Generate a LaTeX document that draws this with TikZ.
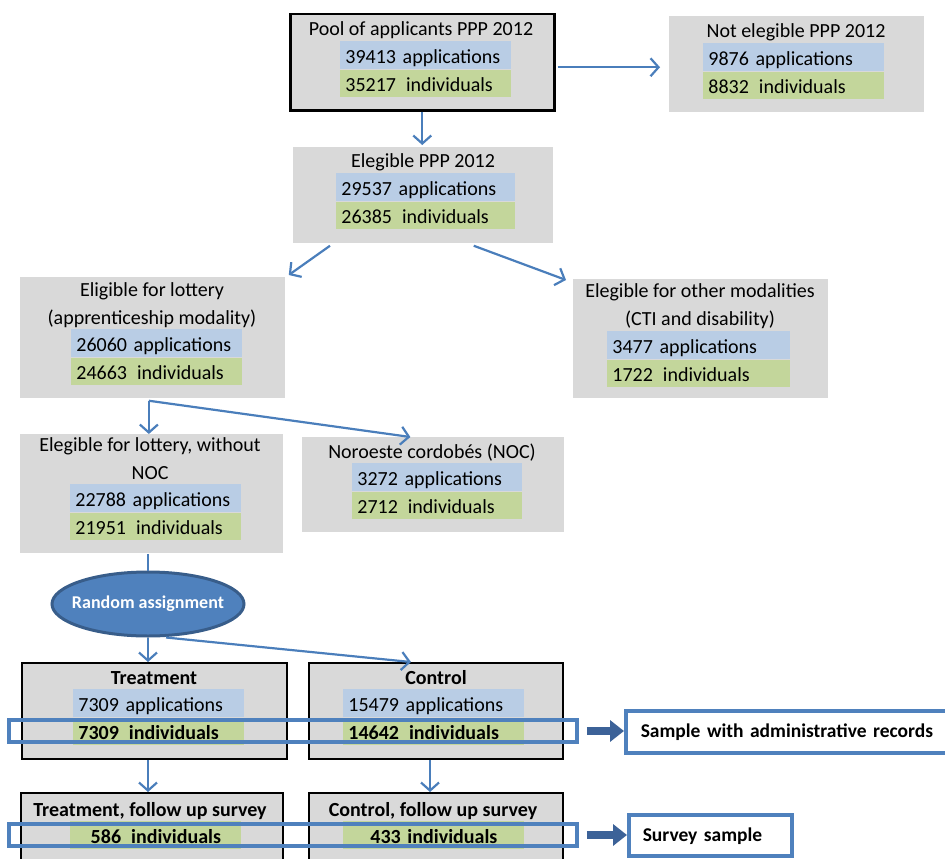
\documentclass[tikz,border=0pt]{standalone}
\usepackage{fontspec}
\setmainfont{Carlito}
\usepackage{tikz}
\usetikzlibrary{positioning, arrows.meta, shapes.geometric}
\definecolor{boxgray}{RGB}{217,217,217}
\definecolor{bandblue}{RGB}{185,205,229}
\definecolor{bandgreen}{RGB}{195,214,155}
\definecolor{linkblue}{RGB}{74,126,187}
\definecolor{hiblue}{RGB}{79,129,189}
\definecolor{ovaledge}{RGB}{56,93,138}
\definecolor{arrowdark}{RGB}{60,98,152}
\tikzset{every picture/.style={line width=0.75pt}}
\tikzset{
  grbox/.style={fill=boxgray, inner sep=0pt, anchor=north west},
  frbox/.style={grbox, draw=black, line width=2pt},
  ttl/.style={inner sep=0pt, anchor=base, align=center, font=\fontsize{20}{27.5}\selectfont},
  appl/.style={fill=bandblue, anchor=north west, inner xsep=5pt, inner ysep=0pt, text width=#1,
    align=left, minimum height=27.5pt, text height=20pt, text depth=3pt, font=\fontsize{20}{24}\selectfont},
  indiv/.style={appl=#1, fill=bandgreen},
  conn/.style={draw=linkblue, line width=2.2pt, -{Straight Barb[length=8pt,width=18pt]}},
  link/.style={draw=linkblue, line width=2.2pt},
  oval/.style={ellipse, fill=hiblue, draw=ovaledge, line width=3pt, minimum width=192pt, minimum height=64pt,
    inner xsep=-10pt, inner ysep=0pt, text=white, font=\fontsize{18}{22}\selectfont\bfseries},
  hilite/.style={draw=hiblue, line width=3.5pt, inner sep=0pt},
  outbox/.style={draw=hiblue, fill=white, line width=3.5pt, anchor=north west, inner xsep=15pt, inner ysep=0pt,
    text width=#1, align=left, text height=18pt, text depth=6pt, font=\fontsize{19.5}{24}\selectfont\bfseries},
  bigarrow/.style={draw=arrowdark, line width=8pt, -{Triangle[length=14pt,width=21pt]}}
}
\begin{document}
\begin{tikzpicture}[x=1pt,y=1pt,yscale=-1,xscale=1]
\useasboundingbox (0,0) rectangle (945,859);

%Shape: Pool of applicants
\node[frbox, line width=2.5pt, minimum width=264pt, minimum height=96pt] (pool) at (289,13) {};
\node[ttl] (poolT) at (421,36) {Pool of applicants PPP 2012};
\node[appl=161pt] (poolA) at (340,41) {39413 applications};
\node[indiv=161pt, below=0pt of poolA] (poolI) {35217~\,individuals};

%Shape: Not elegible
\node[grbox, minimum width=255pt, minimum height=96pt] (notel) at (669,16) {};
\node[ttl] (notelT) at (796,38) {Not elegible PPP 2012};
\node[appl=171pt] (notelA) at (703,43) {9876 applications};
\node[indiv=171pt, below=0pt of notelA] (notelI) {8832~\,individuals};

%Shape: Elegible PPP 2012
\node[grbox, minimum width=260pt, minimum height=96pt] (elig) at (293,147) {};
\node[ttl] (eligT) at (423,167) {Elegible PPP 2012};
\node[appl=169pt] (eligA) at (336,173) {29537 applications};
\node[indiv=169pt, below=0pt of eligA] (eligI) {26385~\,individuals};

%Shape: Eligible for lottery
\node[grbox, minimum width=265pt, minimum height=121pt] (lot) at (20,277) {};
\node[ttl] (lotT) at (152,324) {Eligible for lottery\\(apprenticeship modality)};
\node[appl=161pt] (lotA) at (71,329) {26060 applications};
\node[indiv=161pt, below=0pt of lotA] (lotI) {24663~\,individuals};

%Shape: Other modalities
\node[grbox, minimum width=255pt, minimum height=119pt] (other) at (573,279) {};
\node[ttl] (otherT) at (700,325) {Elegible for other modalities\\(CTI and disability)};
\node[appl=173pt] (otherA) at (607,331) {3477 applications};
\node[indiv=173pt, below=0pt of otherA] (otherI) {1722~\,individuals};

%Shape: Lottery without NOC
\node[grbox, minimum width=263pt, minimum height=119pt] (nonoc) at (20,434) {};
\node[ttl] (nonocT) at (150,479) {Elegible for lottery, without\\NOC};
\node[appl=161pt] (nonocA) at (70,484) {22788 applications};
\node[indiv=161pt, below=0pt of nonocA] (nonocI) {21951~\,individuals};

%Shape: NOC
\node[grbox, minimum width=262pt, minimum height=95pt] (noc) at (302,437) {};
\node[ttl] (nocT) at (432,458) {Noroeste cordobés (NOC)};
\node[appl=160pt] (nocA) at (352,463) {3272 applications};
\node[indiv=160pt, below=0pt of nocA] (nocI) {2712~\,individuals};

%Shape: Ellipse
\node[oval] (rand) at (148,604) {Random assignment};

%Shape: Treatment
\node[frbox, minimum width=265pt, minimum height=96pt] (treat) at (21,662) {};
\node[ttl, font=\fontsize{20}{24}\selectfont\bfseries] (treatT) at (154,684) {Treatment};
\node[appl=161pt] (treatA) at (73,689) {7309 applications};
\node[indiv=161pt, below=0pt of treatA, font=\fontsize{20}{24}\selectfont\bfseries] (treatI) {7309~\,individuals};

%Shape: Control
\node[frbox, minimum width=254pt, minimum height=96pt] (ctrl) at (308,662) {};
\node[ttl, font=\fontsize{20}{24}\selectfont\bfseries] (ctrlT) at (436,684) {Control};
\node[appl=171pt] (ctrlA) at (343,689) {15479 applications};
\node[indiv=171pt, below=0pt of ctrlA, font=\fontsize{20}{24}\selectfont\bfseries] (ctrlI) {14642~\,individuals};

%Shape: Follow up surveys
\node[frbox, minimum width=262pt, minimum height=100pt] (treatfu) at (20,792) {};
\node[ttl, font=\fontsize{20}{24}\selectfont\bfseries] (treatfuT) at (150,816) {Treatment, follow up survey};
\node[indiv=161pt, align=center, font=\fontsize{20}{24}\selectfont\bfseries] (treatfuI) at (70,821) {586~\,individuals};
\node[frbox, minimum width=254pt, minimum height=100pt] (ctrlfu) at (308,792) {};
\node[ttl, font=\fontsize{20}{24}\selectfont\bfseries] (ctrlfuT) at (433,816) {Control, follow up survey};
\node[indiv=171pt, align=center, font=\fontsize{20}{24}\selectfont\bfseries] (ctrlfuI) at (343,821) {433 individuals};

%Shape: highlight frames
\node[hilite, minimum width=568pt, minimum height=22pt] (hiadm) at (293,731) {};
\node[hilite, minimum width=568pt, minimum height=22pt] (hisurv) at (293,835) {};

% Text Node
\node[outbox=310pt, minimum height=42pt] (admrec) at (624,709) {Sample with administrative records};
% Text Node
\node[outbox=135pt, inner xsep=14pt, minimum height=41pt] (survey) at (627,813) {Survey sample};

%Straight Lines
\draw[conn] ([shift={(2,5)}]pool.east) -- ([shift={(-9,5)}]pool.east -| notel.west);
\draw[conn, shorten >=2pt] (pool.south) -- (pool.south |- elig.north);
\draw[conn] ([shift={(37,2)}]elig.south west) -- ([shift={(3,-2)}]lot.north east);
\draw[conn] ([shift={(-80,2)}]elig.south east) -- ([shift={(-7,1)}]other.north west);
\coordinate (split1) at ([shift={(-4,2)}]lot.south);
\draw[conn] (split1) -- (split1 |- nonoc.north);
\draw[conn] (split1) -- ([xshift=-23]noc.north);
\draw[link] (nonoc.south -| rand.north) -- (rand.north);
\draw[conn] (rand.south) -- (rand.south |- treat.north);
\draw[conn] ([xshift=18]rand.south) -- ([xshift=-25]ctrl.north);
\draw[conn] (rand.south |- treat.south) -- (rand.south |- treatfu.north);
\draw[conn] ([xshift=-6]ctrl.south) -- ([xshift=-6]ctrl.south |- ctrlfu.north);

%Block arrows
\draw[bigarrow] ([xshift=8]hiadm.east) -- (hiadm.east -| admrec.west);
\draw[bigarrow] ([xshift=8]hisurv.east) -- (hisurv.east -| survey.west);

\end{tikzpicture}
\end{document}
